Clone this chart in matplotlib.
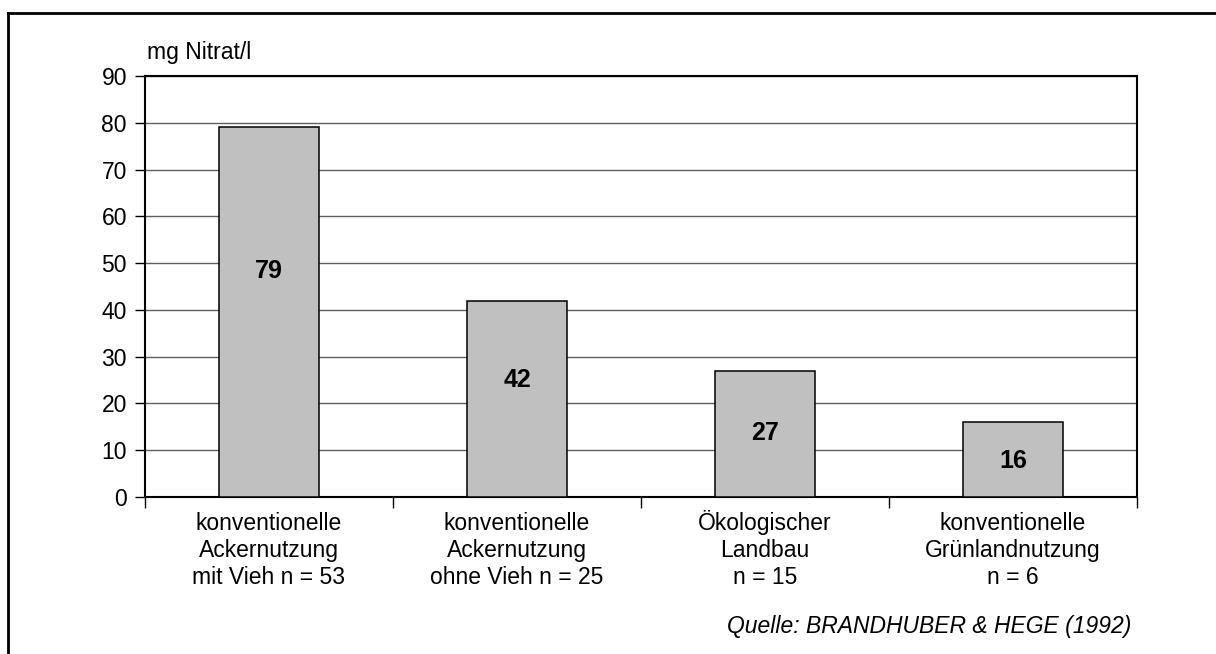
import matplotlib
matplotlib.use("Agg")
import matplotlib.pyplot as plt
from matplotlib.lines import Line2D

plt.rcParams["font.family"] = ["Liberation Sans", "DejaVu Sans"]

categories = [
    "konventionelle\nAckernutzung\nmit Vieh n = 53",
    "konventionelle\nAckernutzung\nohne Vieh n = 25",
    "Ökologischer\nLandbau\nn = 15",
    "konventionelle\nGrünlandnutzung\nn = 6",
]
values = [79, 42, 27, 16]
# height (in axis units) where each value label sits inside its bar
label_pos = [48.3, 25.0, 13.7, 7.7]
y_ticks = list(range(0, 91, 10))

W, H = 1216, 654
fig = plt.figure(figsize=(W / 100, H / 100), dpi=100)
ax = fig.add_axes([145 / W, 1 - 497 / H, (1137 - 145) / W, (497 - 76) / H])

x = list(range(len(values)))
ax.bar(x, values, width=0.403, color="#c0c0c0", edgecolor="black", linewidth=1.1, zorder=3)
for xi, v, yp in zip(x, values, label_pos):
    ax.text(xi, yp, str(v), ha="center", va="center", fontsize=18, fontweight="bold", zorder=4)

ax.set_xlim(-0.5, len(values) - 0.5)
ax.set_ylim(0, 90)
ax.set_yticks(y_ticks)
ax.yaxis.grid(True, color="#606060", linewidth=1.0, zorder=0)
ax.tick_params(axis="y", direction="out", length=7, width=1, labelsize=16.5, pad=6)

# category labels centred, ticks at the boundaries
ax.set_xticks([i - 0.5 for i in range(len(values) + 1)])
ax.set_xticklabels([])
ax.tick_params(axis="x", direction="out", length=8, width=1)
for xi, lab in zip(x, categories):
    # baseline of the last line sits ~87 px below the axis
    ax.text(xi, -18.6, lab, ha="center", va="baseline", fontsize=16.5, linespacing=1.23,
            clip_on=False)

for s in ax.spines.values():
    s.set_linewidth(1.5)

fig.text(147 / W, 1 - 59 / H, "mg Nitrat/l", fontsize=16.5, va="baseline", ha="left")
fig.text(1131 / W, 1 - 626 / H, "Quelle: BRANDHUBER & HEGE (1992)", fontsize=16.5,
         style="italic", ha="right", va="center")

# outer frame (left and top edges)
fig.add_artist(Line2D([8 / W, 8 / W], [0, 1 - 13 / H], color="black", linewidth=2))
fig.add_artist(Line2D([8 / W, 1], [1 - 13 / H, 1 - 13 / H], color="black", linewidth=2))

fig.savefig("out.png", dpi=100, facecolor="white")
